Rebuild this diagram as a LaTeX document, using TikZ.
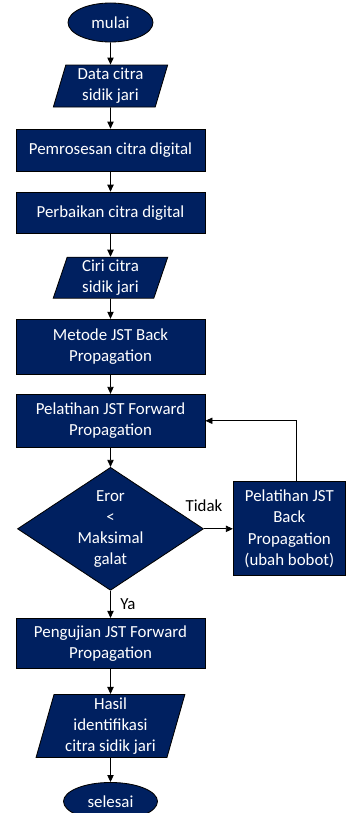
\documentclass[tikz,border=0pt]{standalone}
\usepackage{fontspec}
\setmainfont{Carlito}
\usetikzlibrary{positioning,shapes.geometric,arrows.meta}
\definecolor{navy}{HTML}{002060}

\begin{document}
\begin{tikzpicture}[
    node distance=0.53cm,
    font=\fontsize{12}{15}\selectfont,
    base/.style={draw=black,fill=navy,text=white,align=center,inner sep=1pt,line width=0.6pt},
    terminal/.style={base,ellipse,minimum width=2.125cm,minimum height=0.975cm},
    process/.style={base,rectangle,minimum width=4.725cm,minimum height=1.05cm},
    io/.style={base,trapezium,trapezium left angle=76,trapezium right angle=104,
      trapezium stretches,minimum width=2.875cm,minimum height=1.05cm},
    decision/.style={base,diamond,minimum width=4.65cm,minimum height=3.075cm},
    flow/.style={-{Triangle[length=5pt,width=4.5pt]},line width=0.6pt},
    lbl/.style={inner sep=1pt,text=black}
  ]
    \useasboundingbox (0,0) rectangle (8.8,-20.325);

    \node[terminal] (mulai) at (2.7625,-0.5625) {mulai};
    \node[io] (data) [below=0.555cm of mulai] {Data citra\\sidik jari};
    \node[process] (proses) [below=of data] {Pemrosesan citra digital};
    \node[process,minimum height=1.025cm] (perbaikan) [below=0.505cm of proses] {Perbaikan citra digital};
    \node[io,minimum height=1.025cm] (ciri) [below=0.58cm of perbaikan] {Ciri citra\\sidik jari};
    \node[process,minimum height=1.375cm] (metode) [below=0.505cm of ciri] {Metode JST Back\\Propagation};
    \node[process,minimum height=1.325cm] (latihmaju) [below=0.48cm of metode] {Pelatihan JST Forward\\Propagation};
    \node[decision,label={[text=white,align=center]center:Eror\\<\\Maksimal\\galat}] (cek)
      [below=0.48cm of latihmaju] {};
    \node[base,minimum width=2.8cm,minimum height=2.35cm] (latihmundur) [right=0.725cm of cek]
      {Pelatihan JST\\Back\\Propagation\\(ubah bobot)};
    \node[process,minimum height=1.25cm] (uji) [below=0.68cm of cek] {Pengujian JST Forward\\Propagation};
    \node[io,minimum width=3.725cm,minimum height=1.575cm] (hasil) [below=0.63cm of uji]
      {Hasil\\identifikasi\\citra sidik jari};
    \node[terminal,minimum width=2.35cm,minimum height=0.95cm] (selesai) [below=0.605cm of hasil] {selesai};

    \draw[flow] (mulai) -- (data);
    \draw[flow] (data) -- (proses);
    \draw[flow] (proses) -- (perbaikan);
    \draw[flow] (perbaikan) -- (ciri);
    \draw[flow] (ciri) -- (metode);
    \draw[flow] (metode) -- (latihmaju);
    \draw[flow] (latihmaju) -- (cek);
    \draw[flow] (cek) -- node[lbl,pos=0,above=0.38cm] {Tidak} (latihmundur);
    \draw[flow] ([xshift=0.175cm]latihmundur.north) |- (latihmaju.east);
    \draw[flow] (cek) -- node[lbl,midway,right=0.2cm] {Ya} (uji);
    \draw[flow] (uji) -- (hasil);
    \draw[flow] (hasil) -- (selesai);
  \end{tikzpicture}
\end{document}
